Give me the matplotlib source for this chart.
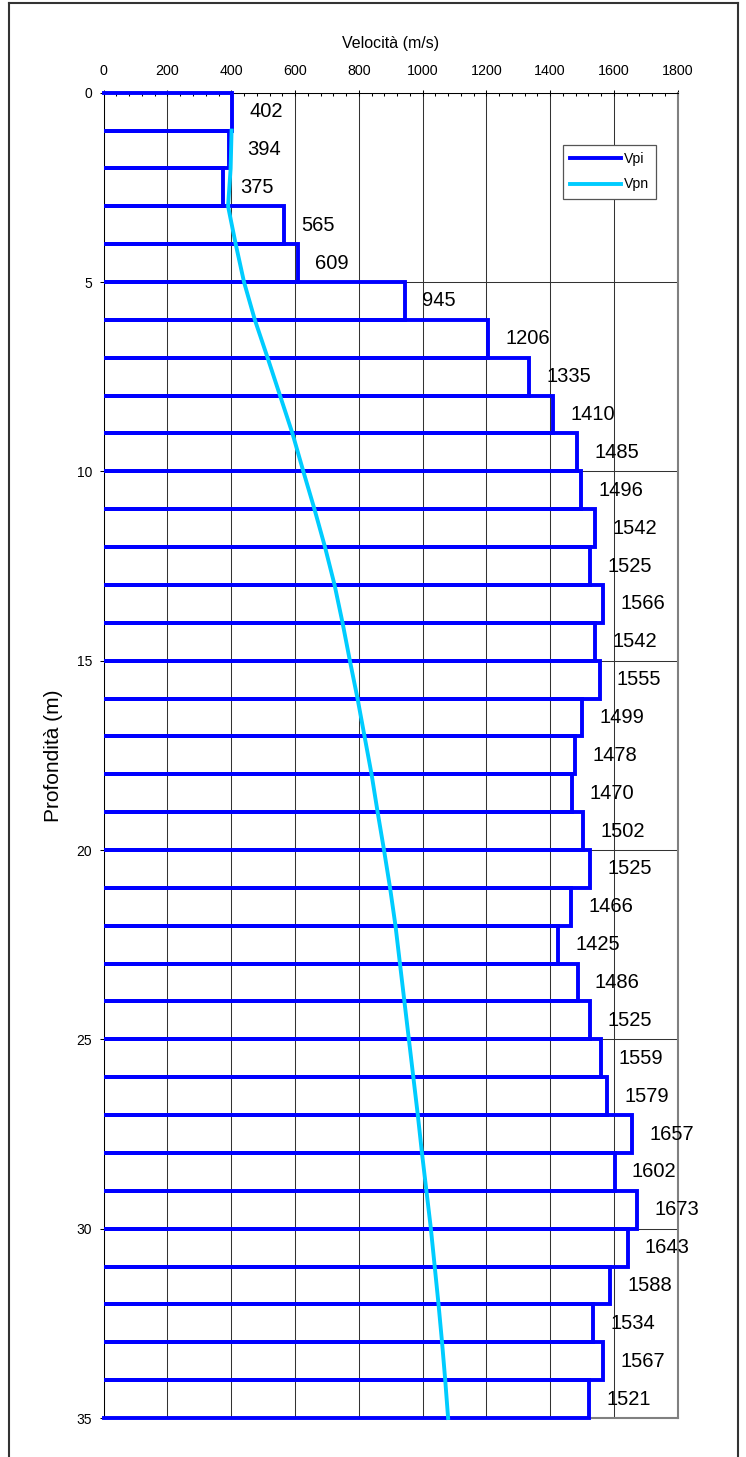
import numpy as np
import matplotlib
matplotlib.use('Agg')
import matplotlib.pyplot as plt
from matplotlib.lines import Line2D
from matplotlib.ticker import MultipleLocator

plt.rcParams['font.family'] = ['Liberation Sans', 'DejaVu Sans']

# Velocita' per strato (m/s), strati di 1 m da 0 a 35 m
vpi = [402, 394, 375, 565, 609, 945, 1206, 1335, 1410, 1485,
       1496, 1542, 1525, 1566, 1542, 1555, 1499, 1478, 1470, 1502,
       1525, 1466, 1425, 1486, 1525, 1559, 1579, 1657, 1602, 1673,
       1643, 1588, 1534, 1567, 1521]

# curva Vpn letta alle profondita' intere 1..35
vpn_depth = list(range(1, 36))
vpn = [401, 398, 390, 414, 440, 474, 514, 553, 592, 626,
       661, 694, 724, 749, 772, 796, 818, 840, 859, 879,
       898, 915, 929, 943, 957, 971, 985, 998, 1012, 1026,
       1038, 1050, 1061, 1071, 1080]

W, H = 746, 1457
fig = plt.figure(figsize=(W / 100, H / 100), dpi=100)
ax = fig.add_axes([103.7 / W, (H - 1418) / H, 574 / W, 1325.3 / H])

#
# profilo a gradini: ogni strato e' un rettangolo aperto a sinistra
xs, ys = [], []
for i, v in enumerate(vpi):
    xs += [0, v, v, 0]
    ys += [i, i, i + 1, i + 1]
ax.plot(xs, ys, color='#0000FF', lw=2.8, zorder=3, clip_on=False,
        solid_joinstyle='miter', label='Vpi')
ax.plot(vpn, vpn_depth, color='#00CCFF', lw=2.8, zorder=4, clip_on=False,
        label='Vpn')

for i, v in enumerate(vpi):
    ax.annotate(str(v), xy=(v, i + 0.5), xytext=(12.5, 0),
                textcoords='offset points', ha='left', va='center',
                fontsize=14.5, color='black', zorder=5)

ax.set_xlim(0, 1800)
ax.set_ylim(35, 0)
ax.xaxis.set_major_locator(MultipleLocator(200))
ax.xaxis.set_minor_locator(MultipleLocator(40))
ax.yaxis.set_major_locator(MultipleLocator(5))
ax.xaxis.tick_top()
ax.xaxis.set_label_position('top')

ax.tick_params(axis='x', which='major', direction='inout', length=4.3,
               width=0.75, labelsize=10.3, pad=8.3, top=True, bottom=False)
ax.tick_params(axis='x', which='minor', direction='in', length=2.5,
               width=0.75, top=True, bottom=False)
ax.tick_params(axis='y', which='major', direction='out', length=2.9,
               width=0.75, labelsize=10, pad=5.5)

ax.grid(True, which='major', color='#333333', lw=0.75)
ax.set_axisbelow(True)

for s in ['top', 'left']:
    ax.spines[s].set_color('black')
    ax.spines[s].set_linewidth(0.75)
for s in ['right', 'bottom']:
    ax.spines[s].set_color('#808080')
    ax.spines[s].set_linewidth(1.5)

ax.set_xlabel('Velocità (m/s)', fontsize=11.5)
ax.xaxis.set_label_coords(0.5, (1418 - 48) / 1325.3)
ax.set_ylabel('Profondità (m)', fontsize=15)
ax.yaxis.set_label_coords((63.3 - 103.7) / 574, 0.5)

leg = ax.legend(loc='upper left', bbox_to_anchor=(0.8007, 0.9605),
                borderaxespad=0, fontsize=10.2, handlelength=3.6,
                handletextpad=0.15, labelspacing=0.8, borderpad=0.5,
                fancybox=False, framealpha=1, edgecolor='#555555')
leg.get_frame().set_linewidth(0.9)

# cornice esterna
fc = '#333333'
fig.add_artist(Line2D([9 / W, 9 / W], [0, 1 - 3 / H], transform=fig.transFigure, color=fc, lw=1.5))
fig.add_artist(Line2D([738 / W, 738 / W], [0, 1 - 3 / H], transform=fig.transFigure, color=fc, lw=1.5))
fig.add_artist(Line2D([9 / W, 738 / W], [1 - 3 / H, 1 - 3 / H], transform=fig.transFigure, color=fc, lw=1.5))

fig.savefig('out.png', dpi=100)
